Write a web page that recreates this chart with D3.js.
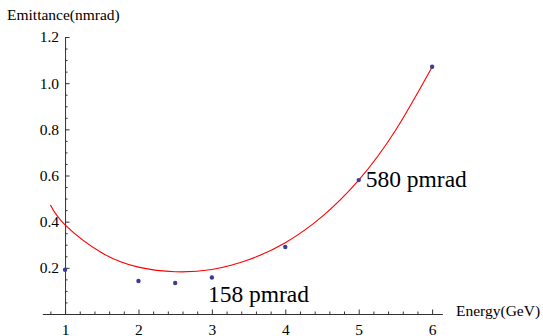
<!DOCTYPE html>
<html>
<head>
<meta charset="utf-8">
<script src="https://cdn.jsdelivr.net/npm/d3@7"></script>
<style>
  body { margin: 0; background: #fff; }
  svg text { fill: #000; }
</style>
</head>
<body>
<div id="chart"></div>
<script>
// measured emittance at each beam energy
var energies = [1, 2, 2.5, 3, 4, 5, 6];
var emittance = [0.192, 0.143, 0.134, 0.158, 0.29, 0.58, 1.071];

// fitted curve
var fitEnergy = [0.8, 1.0, 1.5, 2.0, 2.5, 3.0, 3.5, 4.0, 4.5, 5.0, 5.5, 6.0];
var fitEmittance = [0.472, 0.386, 0.265, 0.203, 0.183, 0.193, 0.235, 0.309, 0.422, 0.58, 0.795, 1.07];

var xTicks = [1, 2, 3, 4, 5, 6];
var yTicks = [0.2, 0.4, 0.6, 0.8, 1.0, 1.2];

var labels = [
  { text: "158 pmrad", e: 3, v: 0.158, dx: -4, dy: 24 },
  { text: "580 pmrad", e: 5, v: 0.58, dx: 7, dy: 7 }
];

var svgWidth = 543, svgHeight = 336;
var serif = "'Liberation Serif', 'Times New Roman', Times, serif";

var svg = d3.select("#chart")
  .append("svg")
  .attr("width", svgWidth)
  .attr("height", svgHeight);

var xScale = d3.scaleLinear().domain([0.69, 6.14]).range([42.3, 442.4]);
var yScale = d3.scaleLinear().domain([0, 1.2]).range([314, 37]);

var axisColor = "#333";

// minor ticks first
var xMinor = d3.range(0.8, 6.01, 0.2).map(d => +d.toFixed(1)).filter(d => xTicks.indexOf(d) < 0);
var yMinor = d3.range(0.05, 1.2, 0.05).map(d => +d.toFixed(2)).filter(d => yTicks.indexOf(d) < 0);

var xAxisG = svg.append("g").attr("transform", `translate(0, ${yScale(0)})`);
xAxisG.append("g")
  .call(d3.axisBottom(xScale).tickValues(xMinor).tickSize(-2.5).tickFormat(""))
  .call(g => g.select(".domain").remove());
xAxisG.append("g")
  .call(d3.axisBottom(xScale).tickValues(xTicks).tickSizeInner(-4.5).tickSizeOuter(0)
    .tickPadding(10).tickFormat(d3.format("d")));

var yAxisG = svg.append("g").attr("transform", `translate(${xScale(1)}, 0)`);
yAxisG.append("g")
  .call(d3.axisLeft(yScale).tickValues(yMinor).tickSize(-2.5).tickFormat(""))
  .call(g => g.select(".domain").remove());
yAxisG.append("g")
  .call(d3.axisLeft(yScale).tickValues(yTicks).tickSizeInner(-4.5).tickSizeOuter(0)
    .tickPadding(6).tickFormat(d3.format(".1f")));

svg.selectAll("g").attr("font-family", serif);
svg.selectAll(".tick line, .domain").attr("stroke", axisColor).attr("stroke-width", 1);
svg.selectAll(".tick text").attr("font-size", "15.5px");

// axis titles
svg.append("text")
  .attr("x", 7)
  .attr("y", 20)
  .attr("font-family", serif)
  .attr("font-size", "15.5px")
  .text("Emittance(nmrad)");

svg.append("text")
  .attr("x", 456)
  .attr("y", 316)
  .attr("font-family", serif)
  .attr("font-size", "15.5px")
  .text("Energy(GeV)");

// fitted curve
var line = d3.line()
  .x((d, i) => xScale(fitEnergy[i]))
  .y(d => yScale(d))
  .curve(d3.curveNatural);

svg.append("path")
  .datum(fitEmittance)
  .attr("d", line)
  .attr("fill", "none")
  .attr("stroke", "#ff0000")
  .attr("stroke-width", 1.1);

// measured points
svg.selectAll("circle.pt")
  .data(emittance)
  .enter()
  .append("circle")
  .attr("class", "pt")
  .attr("cx", (d, i) => xScale(energies[i]))
  .attr("cy", d => yScale(d))
  .attr("r", 2.2)
  .attr("fill", "#3d3d99");

// annotations
svg.selectAll("text.note")
  .data(labels)
  .enter()
  .append("text")
  .attr("class", "note")
  .attr("x", d => xScale(d.e) + d.dx)
  .attr("y", d => yScale(d.v) + d.dy)
  .attr("font-family", serif)
  .attr("font-size", "23.5px")
  .text(d => d.text);
</script>
</body>
</html>
